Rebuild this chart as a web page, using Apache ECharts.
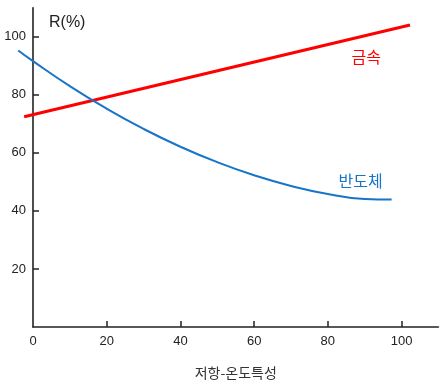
<!DOCTYPE html>
<html>
<head>
<meta charset="utf-8">
<script src="https://cdn.jsdelivr.net/npm/echarts@6/dist/echarts.min.js"></script>
<style>html,body{margin:0;padding:0;background:#fff;}#c{width:445px;height:385px;}</style>
</head>
<body>
<div id="c"></div>
<script>
var xTicks = [20, 40, 60, 80, 100];
var xLabels = [0, 20, 40, 60, 80, 100];
var yTicks = [20, 40, 60, 80, 100];
var yLabels = [20, 40, 60, 80, 100];

var metalX = [-2.4, 102.3];
var metalY = [73.3, 104.2];

var semiX = [-4, 0, 10, 20, 30, 40, 50, 60, 70, 80, 90, 97.3];
var semiY = [95.6, 92.0, 83.6, 76.0, 69.2, 63.2, 58.0, 53.6, 50.0, 47.3, 45.6, 45.4];

var metalName = '금속';
var semiName = '반도체';
var metalLabelAt = [90.4, 93.4];
var semiLabelAt = [88.9, 51.6];

function zip(a, b) { return a.map(function (v, i) { return [v, b[i]]; }); }

var FONT = 'Liberation Sans, Arial, Noto Sans CJK KR, sans-serif';
var KFONT = 'Noto Sans CJK KR';
var W = 445, L = 33, R = 6.6;
var pxPerUnit = (W - L - R) / 110;
var dataMin = -5;

var chart = echarts.init(document.getElementById('c'), null, {renderer: 'canvas'});
chart.setOption({
  animation: false,
  backgroundColor: '#fff',
  grid: [
    {left: L + dataMin * pxPerUnit, right: R, top: 7.7, bottom: 50.5, containLabel: false},
    {left: L, right: R, top: 7.7, bottom: 50.5, containLabel: false}
  ],
  xAxis: [{
    gridIndex: 0, type: 'value', min: dataMin, max: 110, show: false
  }, {
    gridIndex: 1, type: 'value', min: 0, max: 110, interval: 20,
    name: '저항-온도특성', nameLocation: 'middle', nameGap: 39,
    nameTextStyle: {fontSize: 14, color: '#333', fontFamily: KFONT},
    axisLine: {show: true, onZero: false, lineStyle: {color: '#222', width: 1.6}},
    axisTick: {show: true, inside: true, length: 6, customValues: xTicks, lineStyle: {color: '#222', width: 1.5}},
    axisLabel: {customValues: xLabels, fontSize: 13, color: '#222', margin: 8, fontFamily: FONT},
    splitLine: {show: false}
  }],
  yAxis: [{
    gridIndex: 0, type: 'value', min: 0, max: 110, show: false
  }, {
    gridIndex: 1, type: 'value', min: 0, max: 110, interval: 20,
    axisLine: {show: true, onZero: false, lineStyle: {color: '#222', width: 1.6}},
    axisTick: {show: true, inside: true, length: 6, customValues: yTicks, lineStyle: {color: '#222', width: 1.5}},
    axisLabel: {customValues: yLabels, fontSize: 13, color: '#222', margin: 7, fontFamily: FONT},
    splitLine: {show: false}
  }],
  graphic: [{
    type: 'text', left: 49, top: 15,
    style: {text: 'R(%)', fontSize: 16, fill: '#222', fontFamily: FONT}
  }],
  series: [{
    type: 'line', name: metalName, xAxisIndex: 0, yAxisIndex: 0,
    data: zip(metalX, metalY), clip: false,
    showSymbol: false, symbol: 'none',
    lineStyle: {color: '#ff0000', width: 3},
    markPoint: {
      symbol: 'circle', symbolSize: 0,
      data: [{coord: metalLabelAt, value: metalName}],
      label: {show: true, position: 'inside', formatter: metalName, fontSize: 16, color: '#ff0000', fontFamily: KFONT}
    }
  }, {
    type: 'line', name: semiName, xAxisIndex: 0, yAxisIndex: 0,
    data: zip(semiX, semiY), clip: false,
    showSymbol: false, symbol: 'none', smooth: 0.5,
    lineStyle: {color: '#1874c8', width: 2},
    markPoint: {
      symbol: 'circle', symbolSize: 0,
      data: [{coord: semiLabelAt, value: semiName}],
      label: {show: true, position: 'inside', formatter: semiName, fontSize: 16, color: '#1874c8', fontFamily: KFONT}
    }
  }]
});
</script>
</body>
</html>
